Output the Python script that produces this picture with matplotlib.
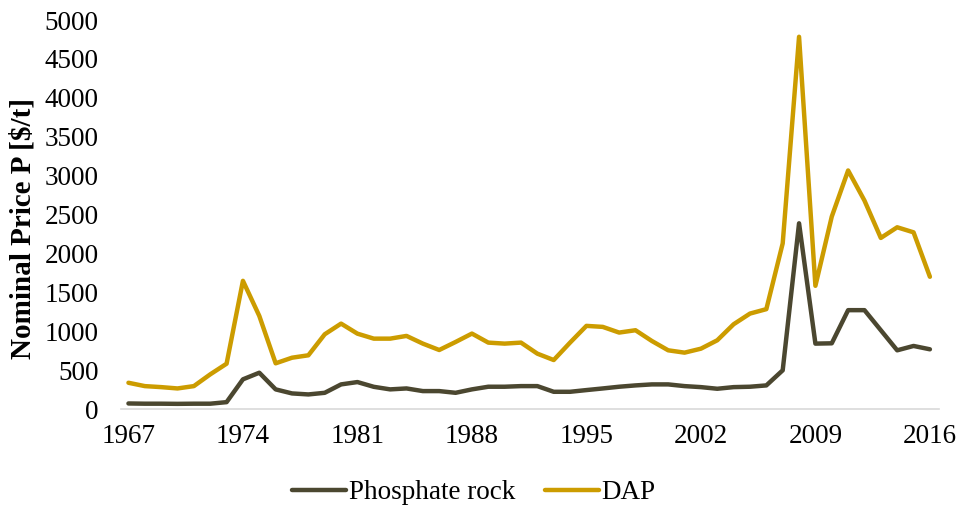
import matplotlib
matplotlib.use("Agg")
import matplotlib.pyplot as plt
import numpy as np

years = np.arange(1967, 2017)

phosphate_rock = [
    73, 70, 70, 68, 70, 70, 90, 383, 468, 254,
    202, 189, 210, 318, 348, 287, 254, 266, 232, 232,
    210, 254, 288, 288, 296, 296, 223, 223, 245, 266,
    288, 305, 318, 318, 296, 283, 262, 283, 288, 305,
    499, 2388, 842, 846, 1272, 1272, 1014, 756, 812, 769,
]

dap = [
    339, 296, 283, 266, 296, 447, 584, 1649, 1198, 589,
    661, 692, 962, 1099, 970, 906, 906, 941, 842, 760,
    863, 971, 855, 842, 855, 713, 631, 855, 1070, 1057,
    984, 1014, 876, 756, 726, 777, 885, 1091, 1228, 1285,
    2130, 4785, 1585, 2474, 3067, 2680, 2200, 2337, 2272, 1701,
]

x_ticks = np.arange(1967, 2017, 7)
y_ticks = np.arange(0, 5001, 500)

plt.rcParams["font.family"] = ["Liberation Serif", "DejaVu Serif"]

fig = plt.figure(figsize=(9.61, 5.14), dpi=100)
ax = fig.add_axes([0.126, 0.204, 0.851, 0.757])

ax.plot(years, phosphate_rock, color="#4B4730", linewidth=3.2,
        solid_capstyle="round", solid_joinstyle="round", label="Phosphate rock")
ax.plot(years, dap, color="#CC9C00", linewidth=3.2,
        solid_capstyle="round", solid_joinstyle="round", label="DAP")

ax.set_xlim(1966.55, 2016.55)
ax.set_ylim(0, 5000)
ax.set_xticks(x_ticks)
ax.set_yticks(y_ticks)
ax.tick_params(axis="both", length=0, labelsize=19.5, colors="black")
ax.tick_params(axis="x", pad=11)
ax.tick_params(axis="y", pad=16)

for side in ("top", "right", "left"):
    ax.spines[side].set_visible(False)
ax.spines["bottom"].set_color("#D9D9D9")
ax.spines["bottom"].set_linewidth(1.2)

ax.set_ylabel("Nominal Price P [$/t]", fontsize=21, fontweight="bold")
ax.yaxis.set_label_coords(-0.104, 0.465)

fig.legend(loc="center", bbox_to_anchor=(0.493, 0.041), ncol=2, frameon=False,
           fontsize=19.5, handlelength=2.0, columnspacing=1.1, handletextpad=0.1)

fig.savefig("out.png", dpi=100)
